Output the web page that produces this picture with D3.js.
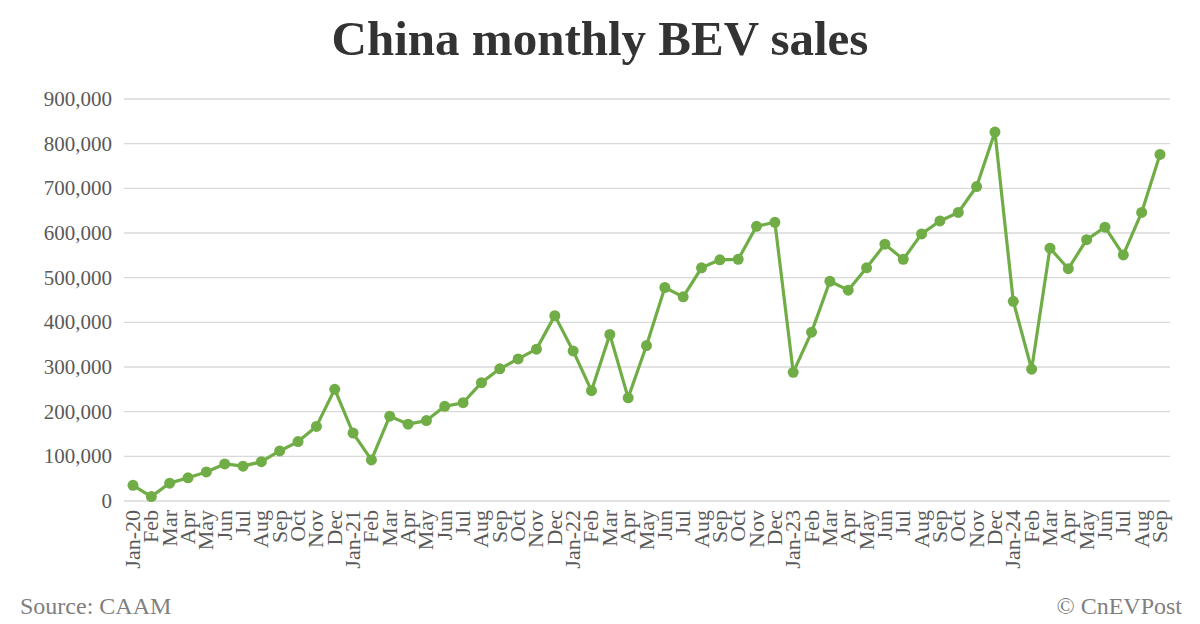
<!DOCTYPE html>
<html><head><meta charset="utf-8">
<script src="https://cdn.jsdelivr.net/npm/d3@7"></script>
<style>body{margin:0;background:#fff}svg{display:block}text{font-family:"Liberation Serif","Times New Roman",serif}</style>
</head><body><svg id="c" width="1200" height="624"></svg>
<script>
const months = ["Jan-20","Feb","Mar","Apr","May","Jun","Jul","Aug","Sep","Oct","Nov","Dec",
"Jan-21","Feb","Mar","Apr","May","Jun","Jul","Aug","Sep","Oct","Nov","Dec",
"Jan-22","Feb","Mar","Apr","May","Jun","Jul","Aug","Sep","Oct","Nov","Dec",
"Jan-23","Feb","Mar","Apr","May","Jun","Jul","Aug","Sep","Oct","Nov","Dec",
"Jan-24","Feb","Mar","Apr","May","Jun","Jul","Aug","Sep"];
const sales = [35000,10000,40000,52000,65000,83000,78000,88000,112000,133000,167000,250000,
152000,92000,190000,172000,180000,212000,220000,265000,296000,318000,340000,415000,
336000,247000,373000,231000,348000,478000,457000,522000,540000,541000,615000,624000,
288000,378000,492000,472000,522000,575000,541000,598000,627000,646000,704000,826000,
447000,295000,566000,520000,585000,613000,551000,646000,776000];
const yTicks = [0,100000,200000,300000,400000,500000,600000,700000,800000,900000];

const svg = d3.select("#c");
const L=124,R=1170,T=99,B=501;
const x = d3.scalePoint().domain(d3.range(months.length)).range([133,1160]);
const y = d3.scaleLinear().domain([0,900000]).range([B,T]);

svg.append("text").attr("x",600).attr("y",55).attr("text-anchor","middle")
  .attr("font-size",49).attr("font-weight","bold").attr("fill","#333").text("China monthly BEV sales");

const g = svg.append("g");
g.selectAll("line.grid").data(yTicks).join("line")
  .attr("x1",L).attr("x2",R).attr("y1",d=>y(d)).attr("y2",d=>y(d))
  .attr("stroke","#d9d9d9").attr("stroke-width",1.3);
g.selectAll("text.yl").data(yTicks).join("text")
  .attr("x",112).attr("y",d=>y(d)+7).attr("text-anchor","end")
  .attr("font-size",21).attr("fill","#595959").text(d=>d3.format(",")(d));

g.selectAll("text.xl").data(months).join("text")
  .attr("transform",(d,i)=>`translate(${x(i)+7},510) rotate(-90)`)
  .attr("text-anchor","end").attr("font-size",22).attr("fill","#595959").text(d=>d);

const line = d3.line().x((d,i)=>x(i)).y(d=>y(d));
g.append("path").datum(sales).attr("d",line).attr("fill","none")
  .attr("stroke","#70ad47").attr("stroke-width",3.2).attr("stroke-linejoin","round");
g.selectAll("circle").data(sales).join("circle")
  .attr("cx",(d,i)=>x(i)).attr("cy",d=>y(d)).attr("r",5.5).attr("fill","#70ad47");

svg.append("text").attr("x",20).attr("y",614).attr("font-size",24).attr("fill","#7f7f7f").text("Source: CAAM");
svg.append("text").attr("x",1182).attr("y",614).attr("text-anchor","end").attr("font-size",24).attr("fill","#7f7f7f").text("© CnEVPost");
</script></body></html>
